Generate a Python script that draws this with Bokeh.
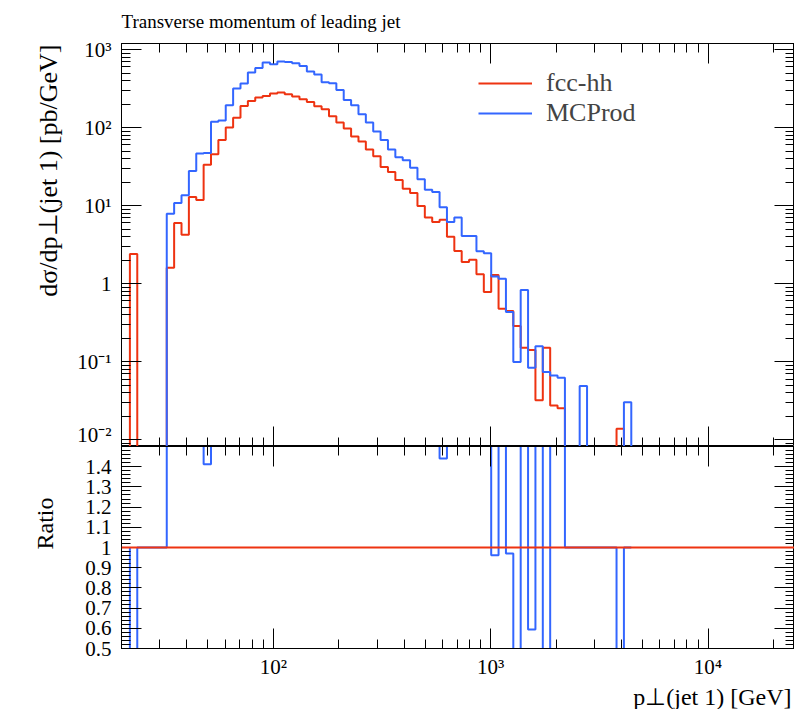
import numpy as np
from bokeh.plotting import figure
from bokeh.models import (Range1d, FixedTicker, LogAxis, LinearAxis, Title, Legend,
                          LegendItem, Span, CustomJSTickFormatter)
from bokeh.layouts import column
from bokeh.embed import file_html
from bokeh.resources import INLINE

# ---------------- data ----------------
# log-spaced pT bins (GeV): first low edge and width in decades
bin_first_edge = 21.86
bin_width_decades = 0.03393
n_bins = 68
edges = bin_first_edge * 10 ** (bin_width_decades * np.arange(n_bins + 1))

fcc_hh = [2.4, 0, 0, 0, 0, 1.60, 5.98, 4.22, 12.9, 11.8,
          33.5, 45.5, 69.3, 100, 134, 189, 219, 243, 254, 273,
          281, 267, 250, 231, 213, 188, 172, 140, 116, 97.3,
          76.9, 66.2, 52.2, 42.9, 31.3, 27.0, 21.3, 16.5, 14.5, 9.89,
          7.02, 6.16, 6.60, 4.0, 2.62, 1.89, 2.02, 1.32, 0.780, 1.29,
          0.478, 0.445, 0.286, 0.151, 0.141, 0.0322, 0.151, 0.0275, 0.0254, 0,
          0, 0, 0, 0, 0, 0, 0.0138, 0]

mcprod = [0, 0, 0, 0, 0, 7.89, 10.8, 13.6, 27.8, 46.4,
          47.3, 119, 123, 193, 316, 367, 507, 581, 681, 648,
          704, 693, 667, 616, 524, 480, 381, 370, 303, 226,
          193, 148, 116, 89.1, 69.3, 52.2, 41.6, 38.1, 30.5, 21.7,
          16.0, 14.9, 9.51, 6.16, 7.02, 4.08, 4.08, 2.60, 2.45, 1.24,
          1.16, 0.432, 0.0989, 0.828, 0.0838, 0.158, 0.0736, 0.0668, 0.0624, 0,
          0, 0.0487, 0, 0, 0, 0, 0, 0.0303]

main_y_ticks = [0.01, 0.1, 1, 10, 100, 1000]
x_ticks = [100, 1000, 10000]
ratio_ticks = [0.5, 0.6, 0.7, 0.8, 0.9, 1.0, 1.1, 1.2, 1.3, 1.4]

RED = "#EE3311"
BLUE = "#3366FF"
FONT = "Liberation Serif"

red = np.array(fcc_hh, dtype=float)
blue = np.array(mcprod, dtype=float)


def step_xy(vals, start, end):
    xs = np.repeat(edges, 2)
    ys = np.concatenate([[start], np.repeat(vals, 2), [end]])
    return xs, ys


floor = 1e-5
xr = Range1d(20, 25000)

log_fmt = CustomJSTickFormatter(code="""
const e = Math.round(Math.log10(tick));
if (e === 0) { return "1"; }
const sup = {"-": "\u207b", "0": "\u2070", "1": "\u00b9", "2": "\u00b2", "3": "\u00b3",
             "4": "\u2074", "5": "\u2075", "6": "\u2076", "7": "\u2077", "8": "\u2078", "9": "\u2079"};
return "10" + String(e).split("").map(c => sup[c]).join("");
""")
ratio_fmt = CustomJSTickFormatter(code="""
return Math.abs(tick - 1) < 1e-9 ? "1" : tick.toFixed(1);
""")
blank_fmt = CustomJSTickFormatter(code="return ' ';")

x_minor = [m * 10 ** e for e in range(1, 5) for m in range(2, 10)]
y_minor = [m * 10 ** e for e in range(-3, 4) for m in range(2, 10)]
r_minor = [round(v, 2) for v in np.arange(0.5, 1.5001, 0.02)]


def style_axis(ax, labels, standoff=10):
    ax.major_tick_in = 20
    ax.major_tick_out = 0
    ax.minor_tick_in = 9
    ax.minor_tick_out = 0
    ax.axis_line_color = "black"
    ax.major_tick_line_color = "black"
    ax.minor_tick_line_color = "black"
    ax.axis_line_width = 1
    if labels:
        ax.major_label_text_font = FONT
        ax.major_label_text_font_size = "21px"
        ax.major_label_text_color = "black"
        ax.major_label_standoff = standoff
    else:
        ax.formatter = blank_fmt
        ax.major_label_text_font_size = "1px"
        ax.major_label_text_alpha = 0
        ax.major_label_standoff = 0


def title(text, size, **kw):
    return Title(text=text, text_font=FONT, text_font_size=size, text_font_style="normal",
                 text_color="black", **kw)


common = dict(x_axis_type="log", x_range=xr, frame_width=673, min_border_left=121,
              min_border_right=0, output_backend="svg", toolbar_location=None, title=None,
              background_fill_color="white", border_fill_color="white",
              outline_line_color="black", outline_line_width=1)

# ---------------- main panel ----------------
p = figure(y_axis_type="log", y_range=Range1d(0.0082, 1194), frame_height=403,
           min_border_top=43, min_border_bottom=0, **common)
p.xgrid.visible = False
p.ygrid.visible = False

xs, ys = step_xy(np.where(red > 0, red, floor), floor, floor)
r_red = p.line(xs, ys, line_color=RED, line_width=2)
xs, ys = step_xy(np.where(blue > 0, blue, floor), floor, floor)
r_blue = p.line(xs, ys, line_color=BLUE, line_width=2)

p.xaxis.ticker = FixedTicker(ticks=x_ticks, minor_ticks=x_minor)
style_axis(p.xaxis[0], False)
p.yaxis.ticker = FixedTicker(ticks=main_y_ticks, minor_ticks=y_minor)
p.yaxis.formatter = log_fmt
style_axis(p.yaxis[0], True)

top_ax = LogAxis(ticker=FixedTicker(ticks=x_ticks, minor_ticks=x_minor))
style_axis(top_ax, False)
p.add_layout(top_ax, "above")
right_ax = LogAxis(ticker=FixedTicker(ticks=main_y_ticks, minor_ticks=y_minor))
style_axis(right_ax, False)
p.add_layout(right_ax, "right")

p.add_layout(title("Transverse momentum of leading jet", "19px", align="left", offset=0,
                   standoff=20, vertical_align="top"), "above")
p.add_layout(title("dσ/dp⊥(jet 1) [pb/GeV]", "26px", align="right", offset=1,
                   standoff=24), "left")

legend = Legend(items=[LegendItem(label="fcc-hh", renderers=[r_red]),
                       LegendItem(label="MCProd", renderers=[r_blue])],
                location=(357, 318), orientation="vertical", padding=0, spacing=0,
                margin=0, glyph_width=54, glyph_height=30, label_height=30,
                label_standoff=14, label_text_font=FONT, label_text_font_size="26px",
                border_line_color=None, background_fill_alpha=0)
p.add_layout(legend)

# ---------------- ratio panel ----------------
r = figure(y_range=Range1d(0.5, 1.5), frame_height=202, min_border_top=0,
           min_border_bottom=40, **common)
r.xgrid.visible = False
r.ygrid.visible = False

ratio = np.where(red > 0, blue / np.where(red > 0, red, 1.0), 1.0)
xs, ys = step_xy(ratio, 1.0, 1.0)
r.line(xs, ys, line_color=BLUE, line_width=2)
r.add_layout(Span(location=1.0, dimension="width", line_color=RED, line_width=2))

r.xaxis.ticker = FixedTicker(ticks=x_ticks, minor_ticks=x_minor)
r.xaxis.formatter = log_fmt
style_axis(r.xaxis[0], True, standoff=6)
r.yaxis.ticker = FixedTicker(ticks=ratio_ticks, minor_ticks=r_minor)
r.yaxis.formatter = ratio_fmt
style_axis(r.yaxis[0], True)

top_ax2 = LogAxis(ticker=FixedTicker(ticks=x_ticks, minor_ticks=x_minor))
style_axis(top_ax2, False)
r.add_layout(top_ax2, "above")
right_ax2 = LinearAxis(ticker=FixedTicker(ticks=ratio_ticks, minor_ticks=r_minor))
style_axis(right_ax2, False)
r.add_layout(right_ax2, "right")

r.add_layout(title("Ratio", "24px", align="left", offset=99, standoff=50), "left")
r.add_layout(title("p⊥(jet 1) [GeV]", "24px", align="right", offset=3, standoff=0),
             "below")

layout = column(p, r, spacing=0)
open("out.html", "w").write(file_html(layout, INLINE))
